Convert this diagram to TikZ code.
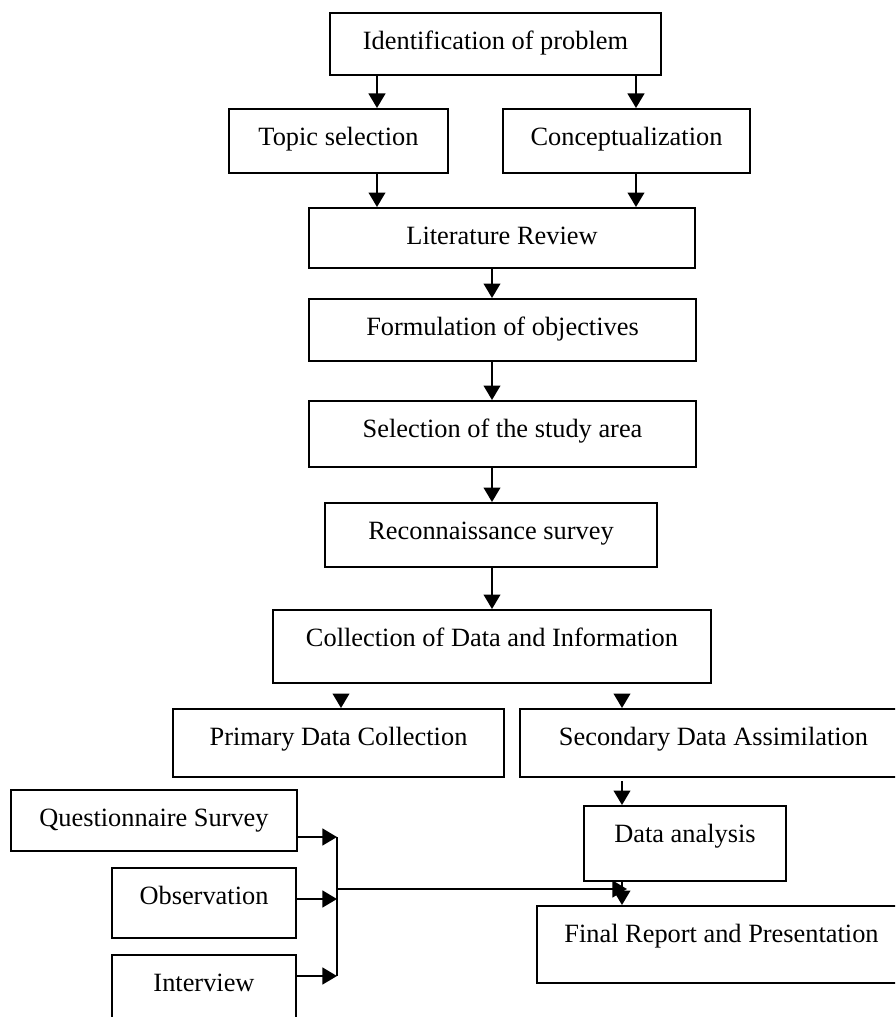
\documentclass[tikz,border=0pt]{standalone}
\usepackage{fontspec}
\setmainfont{Liberation Serif}
\usetikzlibrary{arrows.meta, calc}

\begin{document}
\begin{tikzpicture}[x=0.455pt, y=-0.455pt, font=\fontsize{12}{14}\selectfont,
	box/.style={draw, line width=0.9pt, anchor=north, inner sep=0pt, text height=16.8pt},
	arr/.style={line width=0.9pt, -{Triangle[width=7.6pt, length=6.6pt]}}]
	\useasboundingbox (0,0) rectangle (895,1017);
	\clip (0,0) rectangle (895,1017);
	% upper part
	\node[box, minimum width=150.6pt, text depth=11.4pt] (ident) at (495.5,12) {Identification of problem};
	\node[box, minimum width=99.6pt, text depth=12.3pt] (topic) at (338.5,108) {Topic selection};
	\node[box, minimum width=112.4pt, text depth=12.3pt] (concept) at (626.5,108) {Conceptualization};
	\node[box, minimum width=175.6pt, text depth=10.5pt] (lit) at (502,207) {Literature Review};
	\node[box, minimum width=176.1pt, text depth=11.4pt] (form) at (502.5,298) {Formulation of objectives};
	\node[box, minimum width=176.1pt, text depth=13.3pt] (sel) at (502.5,400) {Selection of the study area};
	\node[box, minimum width=151.1pt, text depth=12.3pt] (recon) at (491,502) {Reconnaissance survey};
	\node[box, minimum width=199.3pt, text depth=16.4pt] (coll) at (492,609) {Collection of Data and Information};
	% data branches
	\node[box, minimum width=150.6pt, text depth=14.2pt] (prim) at (338.5,708) {Primary Data Collection};
	\node[box, minimum width=176.1pt, text depth=14.2pt] (sec) at (713.5,708) {Secondary Data Assimilation};
	\node[box, minimum width=91.9pt, text depth=17.3pt] (data) at (685,805) {Data analysis};
	\node[box, minimum width=167.9pt, text depth=18.3pt] (final) at (721.5,905) {Final Report and Presentation};
	% primary methods
	\node[box, minimum width=130.1pt, text depth=11pt] (quest) at (154,789) {Questionnaire Survey};
	\node[box, minimum width=83.7pt, text depth=15.1pt] (obs) at (204,867) {Observation};
	\node[box, minimum width=83.7pt, text depth=20pt] (inter) at (204,954) {Interview};

	\draw[arr] (ident.south -| 377,0) -- (topic.north -| 377,0);
	\draw[arr] (ident.south -| 636,0) -- (concept.north -| 636,0);
	\draw[arr] (topic.south -| 377,0) -- (lit.north -| 377,0);
	\draw[arr] (concept.south -| 636,0) -- (lit.north -| 636,0);
	\draw[arr] (lit.south -| 492,0) -- (form.north -| 492,0);
	\draw[arr] (form.south -| 492,0) -- (sel.north -| 492,0);
	\draw[arr] (sel.south -| 492,0) -- (recon.north -| 492,0);
	\draw[arr] (recon.south -| 492,0) -- (coll.north -| 492,0);
	\draw[arr] ($(coll.south -| 341,0)+(0,11)$) -- (prim.north -| 341,0);
	\draw[arr] ($(coll.south -| 622,0)+(0,11)$) -- (sec.north -| 622,0);
	\draw[arr] ($(sec.south -| 622,0)+(0,3)$) -- (data.north -| 622,0);
	\draw[arr] (data.south -| 622,0) -- (final.north -| 622,0);

	% merge of the methods
	\coordinate (barTop) at (337,837);
	\coordinate (barObs) at (337,899);
	\coordinate (barBot) at (337,976);
	\coordinate (barMid) at (337,889);
	\draw[arr] (quest.east |- barTop) -- (barTop);
	\draw[arr] (obs.east |- barObs) -- (barObs);
	\draw[arr] (inter.east |- barBot) -- (barBot);
	\draw[line width=0.9pt] (barTop) -- (barBot);
	\draw[arr] (barMid) -- (barMid -| 627,0);
\end{tikzpicture}
\end{document}
